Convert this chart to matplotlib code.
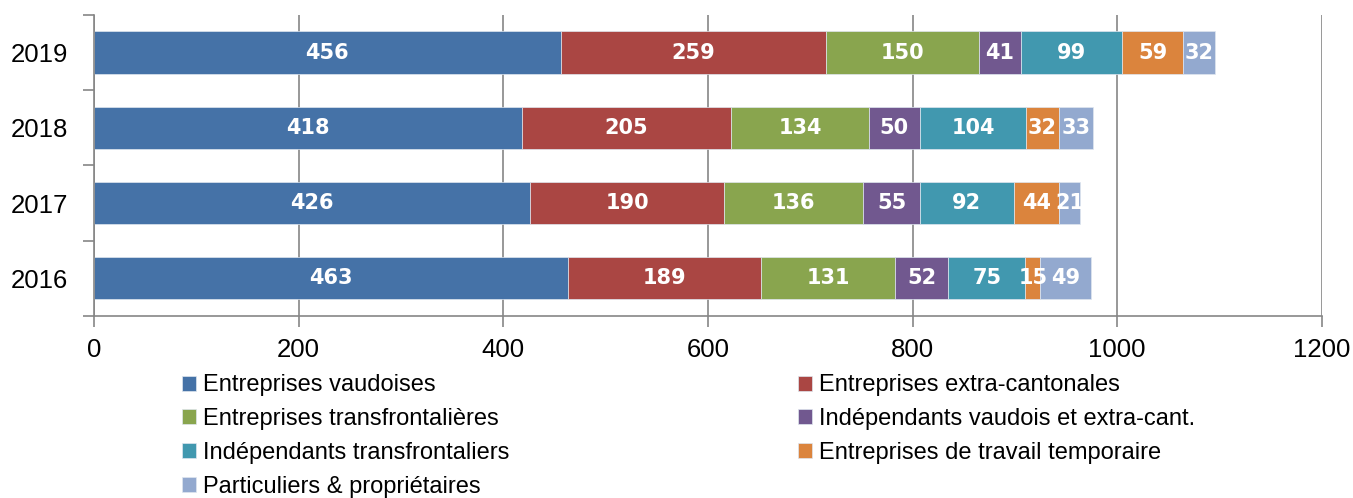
import matplotlib.pyplot as plt
import numpy as np

years = ["2016", "2017", "2018", "2019"]

series = [
    "Entreprises vaudoises",
    "Entreprises extra-cantonales",
    "Entreprises transfrontalières",
    "Indépendants vaudois et extra-cant.",
    "Indépendants transfrontaliers",
    "Entreprises de travail temporaire",
    "Particuliers & propriétaires",
]

# values per year (2016, 2017, 2018, 2019)
vaudoises = [463, 426, 418, 456]
extra_cant = [189, 190, 205, 259]
transfront = [131, 136, 134, 150]
indep_vd = [52, 55, 50, 41]
indep_transfront = [75, 92, 104, 99]
temporaire = [15, 44, 32, 59]
particuliers = [49, 21, 33, 32]

colors = ["#4572A7", "#AA4643", "#89A54E", "#71588F", "#4198AF", "#DB843D", "#93A9CF"]

data = [vaudoises, extra_cant, transfront, indep_vd, indep_transfront, temporaire, particuliers]

plt.rcParams['font.family'] = ['Liberation Sans', 'DejaVu Sans']

fig = plt.figure(figsize=(13.53, 4.98), dpi=100)
ax = fig.add_axes([0.0695, 0.3655, 0.9075, 0.6045])

y = np.arange(len(years))
left = np.zeros(len(years))
handles = []
for name, vals, col in zip(series, data, colors):
    vals = np.array(vals, dtype=float)
    b = ax.barh(y, vals, left=left, height=0.56, color=col, edgecolor='#dfe6ef', linewidth=0.5, label=name)
    handles.append(b)
    for yi, (l, v) in enumerate(zip(left, vals)):
        ax.text(l + v / 2, yi, f"{int(v)}", ha='center', va='center', color='white',
                fontsize=15, fontweight='bold', family='DejaVu Sans')
    left += vals

ax.set_xlim(0, 1200)
ax.set_ylim(-0.5, 3.5)
ax.set_xticks(np.arange(0, 1201, 200))
ax.set_yticks(y)
ax.set_yticklabels(years)
ax.set_yticks(np.arange(-0.5, 4, 1), minor=True)
ax.tick_params(axis='y', which='major', length=0, labelsize=18.5, pad=19)
ax.tick_params(axis='y', which='minor', length=8, color='#868686', width=1.2)
ax.tick_params(axis='x', length=8, color='#868686', width=1.2, labelsize=18.5, pad=8)
ax.grid(axis='x', color='#868686', linewidth=1.2)
ax.set_axisbelow(True)
for s in ['top', 'right']:
    ax.spines[s].set_visible(False)
for s in ['left', 'bottom']:
    ax.spines[s].set_color('#868686')
    ax.spines[s].set_linewidth(1.2)

# legend is filled row by row in the original
order = [0, 2, 4, 6, 1, 3, 5]
leg = fig.legend(handles=[handles[i] for i in order], labels=[series[i] for i in order],
                 loc='upper left', bbox_to_anchor=(0.1345, 0.248), ncol=2,
                 frameon=False, fontsize=17, handlelength=0.6, handleheight=0.6,
                 handletextpad=0.3, columnspacing=12.2, labelspacing=0.5,
                 borderaxespad=0, borderpad=0)

fig.savefig("out.png", dpi=100)
